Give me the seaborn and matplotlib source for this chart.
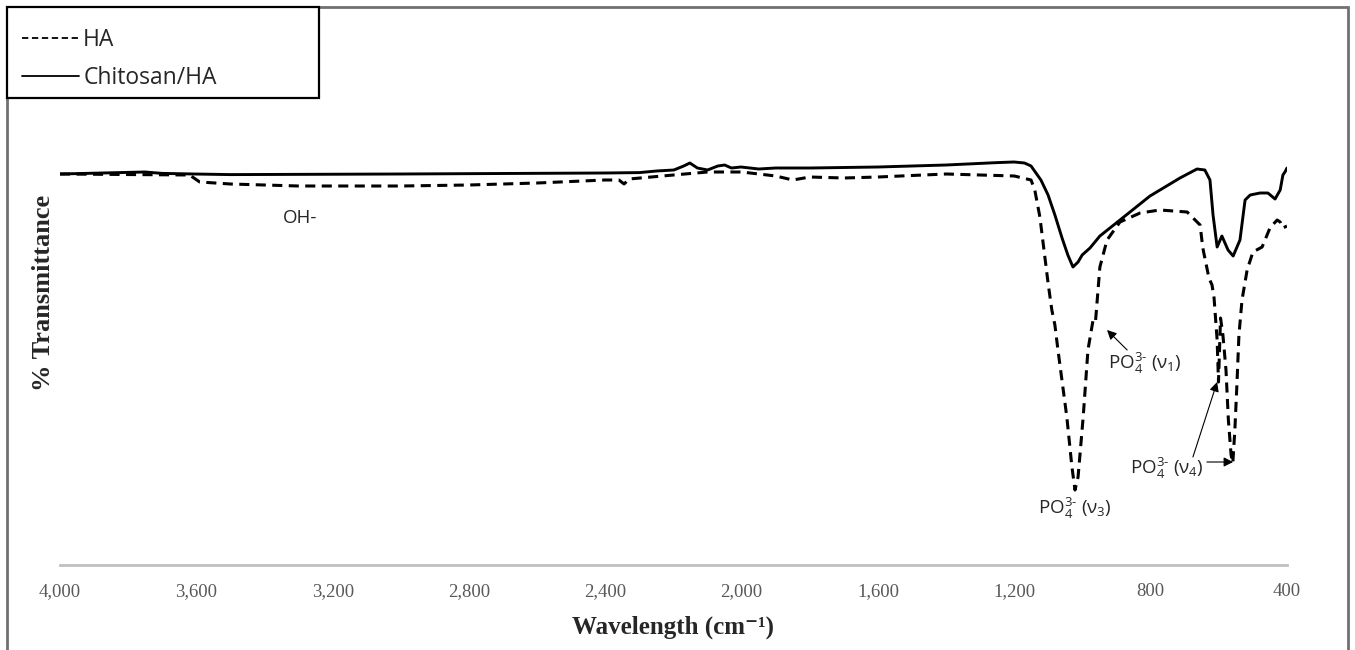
import numpy as np
import pandas as pd
import matplotlib
matplotlib.use("Agg")
import matplotlib.pyplot as plt
from matplotlib.lines import Line2D
from matplotlib.patches import Rectangle
import seaborn as sns

# ---- data ----
chit_wn = [4000, 3751, 3700, 3607, 3500, 3002, 2401, 2300, 2250, 2199, 2170, 2152, 2130,
           2100, 2070, 2050, 2030, 2002, 1950, 1900, 1800, 1600, 1400, 1250, 1201, 1170,
           1151, 1122, 1101, 1081, 1060, 1043, 1028, 1013, 1001, 978, 949, 890, 802, 714,
           664, 641, 626, 617, 605, 591, 573, 558, 538, 523, 508, 479, 456, 435, 420, 412,
           406, 400]
chit_T = [97.75, 98.25, 97.9, 97.75, 97.6, 97.75, 98.0, 98.1, 98.5, 98.75, 99.75, 100.5, 99.25,
          98.75, 99.75, 100.0, 99.25, 99.5, 99.0, 99.25, 99.25, 99.5, 100.0, 100.6, 100.75, 100.5,
          99.75, 96.25, 92.5, 87.5, 81.75, 77.5, 74.5, 75.75, 77.5, 79.25, 82.25, 86.25, 92.25, 96.75,
          99.0, 98.75, 96.25, 87.5, 79.5, 82.25, 78.75, 77.25, 81.25, 91.25, 92.5, 93.0, 93.0, 91.5,
          93.75, 97.5, 98.25, 99.25]

ha_wn = [4000, 3620, 3590, 3500, 3300, 3000, 2800, 2600, 2401, 2360, 2345, 2330, 2200, 2100,
         2000, 1900, 1850, 1800, 1700, 1600, 1400, 1300, 1200, 1151, 1140, 1125, 1101, 1090,
         1081, 1072, 1046, 1031, 1022, 1013, 998, 984, 969, 962, 949, 928, 890, 831, 773, 693,
         655, 647, 635, 629, 620, 614, 605, 601, 595, 588, 579, 572, 564, 559, 553, 547, 541,
         532, 517, 500, 473, 450, 429, 420, 412, 400]
ha_T = [97.75, 97.5, 95.75, 95.25, 94.75, 94.75, 95.0, 95.5, 96.25, 96.25, 95.25, 96.5, 97.5, 98.25,
        98.25, 97.25, 96.25, 97.0, 96.75, 97.0, 97.75, 97.5, 97.25, 96.25, 93.75, 87.0, 70.5, 63.75,
        60.0, 53.75, 37.0, 24.5, 18.75, 22.0, 37.0, 53.75, 61.25, 60.75, 74.5, 81.25, 85.75, 88.0,
        88.75, 88.25, 85.0, 79.25, 74.25, 71.75, 70.0, 66.75, 56.25, 45.75, 61.75, 57.5, 48.75,
        36.25, 27.5, 25.5, 33.75, 45.0, 57.5, 66.25, 73.75, 78.25, 79.5, 84.25, 86.25, 85.75,
        84.25, 84.75]

xticks = [4000, 3600, 3200, 2800, 2400, 2000, 1600, 1200, 800, 400]
xtick_labels = ["4,000", "3,600", "3,200", "2,800", "2,400", "2,000", "1,600", "1,200", "800", "400"]
series_names = ["HA", "Chitosan/HA"]

# ---- style ----
sns.set_style("white")
plt.rcParams["font.family"] = ["Open Sans", "DejaVu Sans"]
plt.rcParams["mathtext.fontset"] = "custom"
plt.rcParams["mathtext.rm"] = "Open Sans"
plt.rcParams["mathtext.it"] = "Open Sans"

W, H = 1355, 650
fig = plt.figure(figsize=(W / 100, H / 100), dpi=100)
ax = fig.add_axes([60 / W, 1 - 565 / H, (1287 - 60) / W, (565 - 125) / H])

df_ha = pd.DataFrame({"wn": ha_wn, "T": ha_T})
df_ch = pd.DataFrame({"wn": chit_wn, "T": chit_T})

sns.lineplot(data=df_ha, x="wn", y="T", ax=ax, color="black", lw=2.2,
             dashes=False, estimator=None, sort=False, linestyle=(0, (3.3, 2.1)))
sns.lineplot(data=df_ch, x="wn", y="T", ax=ax, color="black", lw=2.1,
             estimator=None, sort=False)

ax.set_xlim(4000, 400)
ax.set_ylim(0, 110)
ax.set_xticks(xticks)
ax.set_xticklabels(xtick_labels, family="Liberation Serif", fontsize=13.5, color="#595959")
ax.tick_params(axis="x", length=0, pad=13)
ax.set_yticks([])
for s in ["top", "right", "left"]:
    ax.spines[s].set_visible(False)
ax.spines["bottom"].set_color("#c0c0c0")
ax.spines["bottom"].set_linewidth(2)

ax.set_xlabel("Wavelength (cm\u207b\u00b9)", family=["Liberation Serif", "DejaVu Serif"],
              fontweight="bold", fontsize=18)
ax.xaxis.set_label_coords(0.5, -0.115)
ax.set_ylabel("% Transmittance", family="Liberation Serif", fontweight="bold", fontsize=19)
ax.yaxis.set_label_coords(-0.004, 0.618)

# ---- annotations ----
afs = 13.5
ax.text(3296, 86.75, "OH-", ha="center", va="center", fontsize=afs)
arrow = dict(arrowstyle="-|>", color="black", lw=0.8, mutation_scale=14, shrinkA=0, shrinkB=0)
ax.annotate("", xy=(928, 58.75), xytext=(869, 53.75), arrowprops=arrow)
ax.text(925, 50.5, r"PO$_4^{3\text{-}}$ (ν$_1$)", ha="left", va="center", fontsize=afs)
ax.text(1130, 14.25, r"PO$_4^{3\text{-}}$ (ν$_3$)", ha="left", va="center", fontsize=afs)
ax.text(861, 24.25, r"PO$_4^{3\text{-}}$ (ν$_4$)", ha="left", va="center", fontsize=afs)
ax.annotate("", xy=(605, 45.75), xytext=(676, 27.0), arrowprops=arrow)
ax.annotate("", xy=(558, 25.75), xytext=(635, 25.75), arrowprops=arrow)

# ---- legend ----
handles = [Line2D([], [], color="black", lw=1.3, dashes=(3.5, 2.0)),
           Line2D([], [], color="black", lw=1.3)]
leg = fig.legend(handles, series_names, loc="upper left",
                 bbox_to_anchor=(3 / W, 1 - 9 / H),
                 bbox_transform=fig.transFigure,
                 fontsize=16.5, frameon=False, borderaxespad=0, handlelength=2.45,
                 handletextpad=0.2, labelspacing=0.6, borderpad=0.85)
fig.add_artist(Rectangle((7 / W, 1 - 98 / H), (319 - 7) / W, 91 / H,
                         transform=fig.transFigure, fill=True, facecolor="white",
                         edgecolor="black", lw=1.6, zorder=1))

# ---- outer frame ----
fig.add_artist(Rectangle((7 / W, -0.05), (1348 - 7) / W, 1.05 - 7 / H,
                         transform=fig.transFigure, fill=False,
                         edgecolor="#707070", lw=2, zorder=-1))
leg.set_zorder(5)

fig.savefig("out.png", dpi=100)
